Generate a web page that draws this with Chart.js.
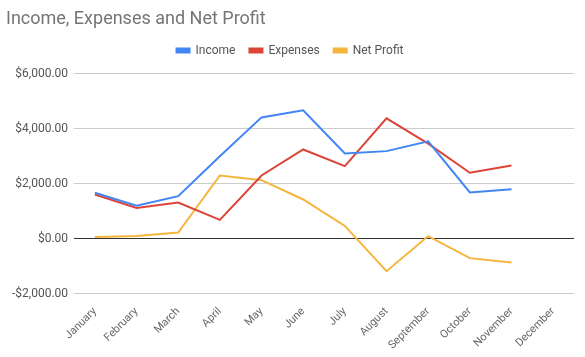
<!DOCTYPE html>
<html>
<head>
<meta charset="utf-8">
<script src="https://cdn.jsdelivr.net/npm/chart.js@4/dist/chart.umd.min.js"></script>
<style>
html,body{margin:0;padding:0;background:#fff;}
#wrap{position:relative;width:585px;height:357px;}
</style>
</head>
<body>
<div id="wrap"><canvas id="c" width="585" height="357"></canvas></div>
<script>
const months = ["January","February","March","April","May","June","July","August","September","October","November","December"];
const income = [1675, 1200, 1550, 3000, 4410, 4665, 3100, 3185, 3540, 1685, 1805, null];
const expenses = [1610, 1125, 1320, 690, 2300, 3245, 2640, 4375, 3455, 2400, 2665, null];
const netProfit = [70, 100, 230, 2300, 2130, 1430, 470, -1175, 100, -700, -855, null];
const yTicks = [-2000, 0, 2000, 4000, 6000];

const fmt = v => (v < 0 ? "-$" : "$") + Math.abs(v).toLocaleString("en-US", {minimumFractionDigits: 2, maximumFractionDigits: 2});

const legendGap = {
  id: "legendGap",
  beforeInit(chart) {
    const lg = chart.legend;
    if (!lg) return;
    const orig = lg.fit;
    lg.fit = function () { orig.call(this); this.height += 7; };
  }
};

new Chart(document.getElementById("c"), {
  type: "line",
  data: {
    labels: months,
    datasets: [
      {label: "Income", data: income, borderColor: "#4285F4", backgroundColor: "#4285F4"},
      {label: "Expenses", data: expenses, borderColor: "#DB4437", backgroundColor: "#DB4437"},
      {label: "Net Profit", data: netProfit, borderColor: "#F5B53A", backgroundColor: "#F5B53A"}
    ].map(d => Object.assign(d, {borderWidth: 2, pointRadius: 0, pointHoverRadius: 0, tension: 0, fill: false}))
  },
  plugins: [legendGap],
  options: {
    responsive: false,
    animation: false,
    layout: {padding: {left: 6, right: 11, top: 7, bottom: 2}},
    plugins: {
      title: {
        display: true, text: "Income, Expenses and Net Profit", align: "start",
        color: "#757575", font: {family: "Roboto", size: 18, weight: "normal"},
        padding: {top: 2, bottom: 0}
      },
      legend: {
        display: true, position: "top", align: "center",
        labels: {boxWidth: 13, boxHeight: 4, color: "#555", font: {family: "Roboto", size: 12}, padding: 14}
      },
      tooltip: {enabled: false}
    },
    scales: {
      x: {
        offset: true,
        grid: {display: false, offset: true},
        border: {display: false},
        ticks: {color: "#666", font: {family: "Roboto", size: 11}, minRotation: 45, maxRotation: 45, autoSkip: false, padding: 3}
      },
      y: {
        min: -2000, max: 6000,
        afterBuildTicks: axis => { axis.ticks = yTicks.map(v => ({value: v})); },
        grid: {color: ctx => (ctx.tick && ctx.tick.value === 0 ? "#333" : "#ccc"), lineWidth: 1, drawTicks: false},
        border: {display: false},
        ticks: {color: "#555", font: {family: "Roboto", size: 12}, padding: 6, callback: v => fmt(v)}
      }
    }
  }
});
</script>
</body>
</html>
